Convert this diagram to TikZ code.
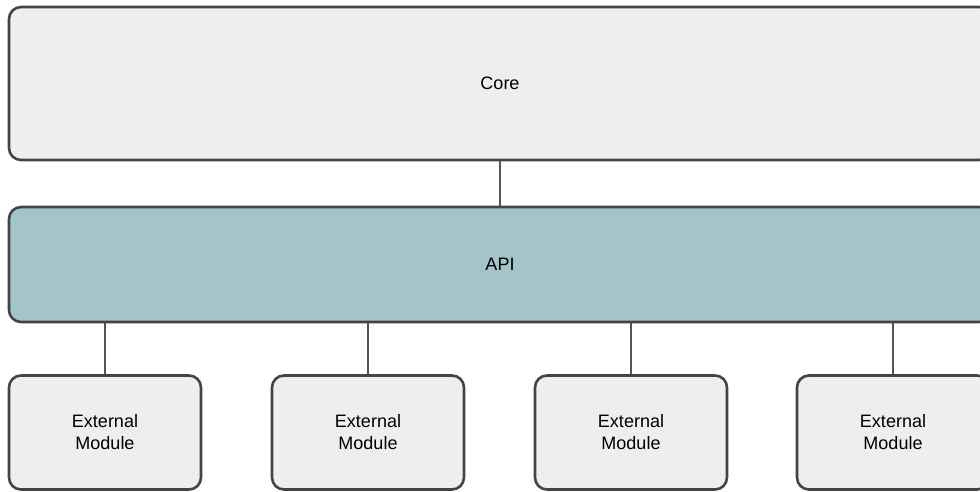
\documentclass[tikz,border=0pt]{standalone}
\usepackage{fontspec}
\setmainfont{Liberation Sans}
\definecolor{boxgray}{HTML}{EEEEEE}
\definecolor{apiblue}{HTML}{A3C4C8}
\definecolor{edgegray}{HTML}{444444}
\definecolor{linkgray}{HTML}{555555}
\begin{document}
\begin{tikzpicture}[x=1pt,y=1pt,
  blk/.style={draw=edgegray, line width=2.6pt, rounded corners=12pt, inner sep=0pt,
    font=\fontsize{18}{22}\selectfont, align=center},
  modbox/.style={blk, fill=boxgray, minimum width=192pt, minimum height=114pt},
  link/.style={draw=linkgray, line width=2.8pt}]
\clip (0,0) rectangle (980,-491);
\fill[white] (0,0) rectangle (980,-491);
\node[blk, fill=boxgray, minimum width=982pt, minimum height=153pt] (core) at (500,-83.5) {Core};
\node[blk, fill=apiblue, minimum width=982pt, minimum height=115pt] (api) at (500,-264.5) {API};
\node[modbox] (m1) at (105,-432.5) {External\\Module};
\node[modbox] (m2) at (368,-432.5) {External\\Module};
\node[modbox] (m3) at (631,-432.5) {External\\Module};
\node[modbox] (m4) at (893,-432.5) {External\\Module};
\draw[link] (core.south) -- (api.north);
\foreach \m in {m1,m2,m3,m4}{
  \draw[link] (\m.north) -- (\m.north |- api.south);
}
\end{tikzpicture}
\end{document}
